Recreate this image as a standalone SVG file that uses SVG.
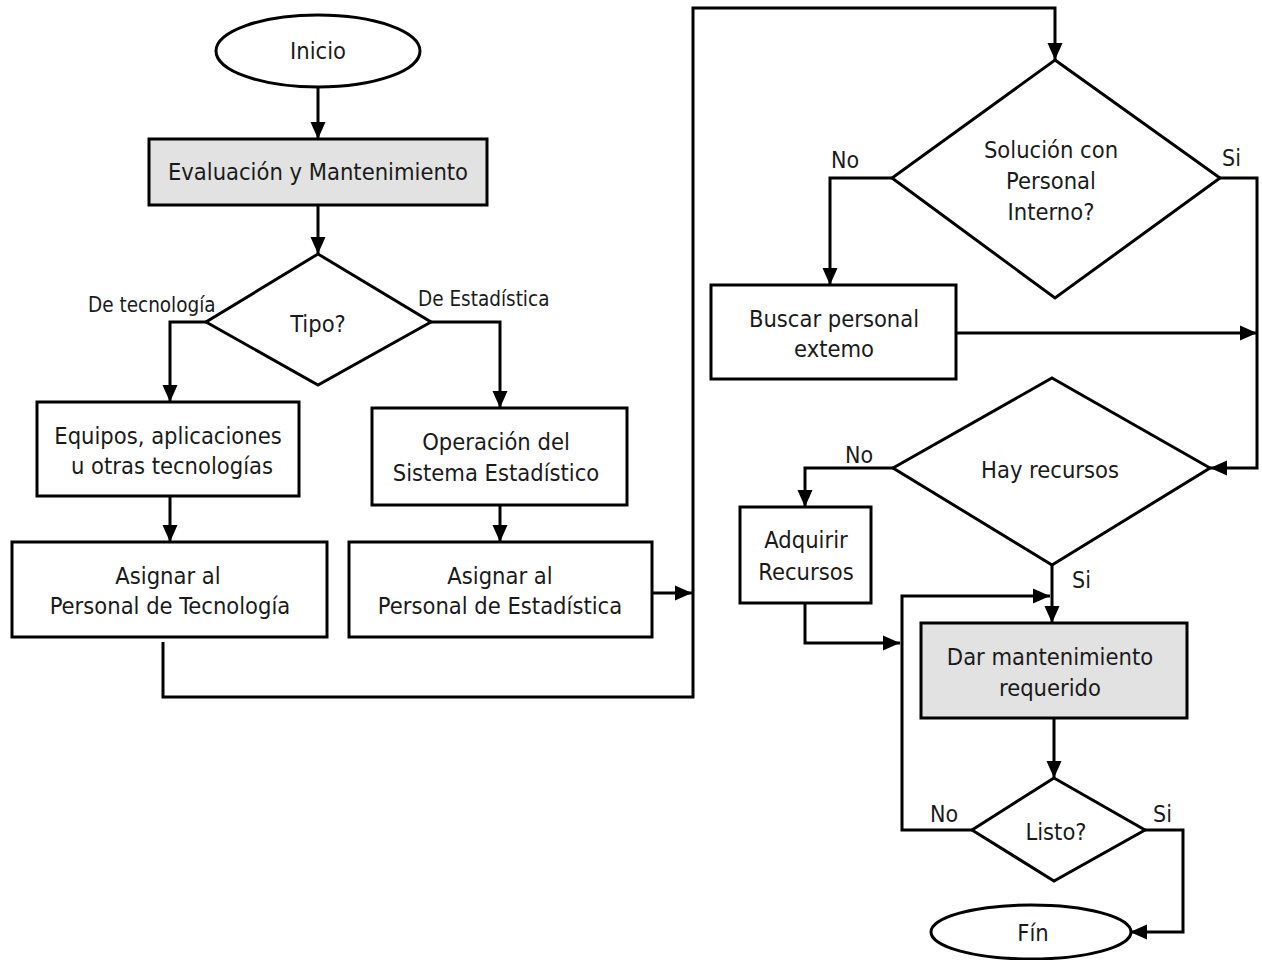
<svg xmlns="http://www.w3.org/2000/svg" width="1262" height="960" viewBox="0 0 1262 960">
  <style>
    .shape { fill: #ffffff; stroke: #000000; stroke-width: 3; }
    .shade { fill: #e2e2e2; stroke: #000000; stroke-width: 3; }
    .lbl { font-family: "DejaVu Sans Condensed", "DejaVu Sans", sans-serif; font-size: 23.5px; fill: #1a1a1a; text-anchor: middle; }
    .tag { font-family: "DejaVu Sans Condensed", "DejaVu Sans", sans-serif; font-size: 20.5px; fill: #1a1a1a; }
    .yn { font-size: 23px; }
    .wire { fill: none; stroke: #000000; stroke-width: 3; }
    .arrow { marker-end: url(#head); }
  </style>
  <defs>
    <marker id="head" markerUnits="userSpaceOnUse" markerWidth="17" markerHeight="16" refX="17" refY="8" orient="auto">
      <path d="M0,0.5 L17,8 L0,15.5 z" fill="#000000"/>
    </marker>
  </defs>
  <rect width="1262" height="960" fill="#ffffff"/>

  <!-- connectors -->
  <g id="connectors">
    <path class="wire arrow" d="M318,87 L318,139"/>
    <path class="wire arrow" d="M318,205 L318,254"/>
    <path class="wire arrow" d="M206,322 L170,322 L170,402"/>
    <path class="wire arrow" d="M431,322 L500,322 L500,408"/>
    <path class="wire arrow" d="M170,496 L170,542"/>
    <path class="wire arrow" d="M500,505 L500,542"/>
    <path class="wire arrow" d="M652,593 L692,593"/>
    <path class="wire arrow" d="M163,642 L163,697 L693,697 L693,8 L1055,8 L1055,60"/>
    <path class="wire arrow" d="M892,178 L830,178 L830,285"/>
    <path class="wire arrow" d="M956,333 L1257,333"/>
    <path class="wire arrow" d="M1220,178 L1257,178 L1257,468 L1210,468"/>
    <path class="wire arrow" d="M893,468 L805,468 L805,507"/>
    <path class="wire arrow" d="M805,603 L805,643 L900,643"/>
    <path class="wire arrow" d="M1052,565 L1052,623"/>
    <path class="wire arrow" d="M1054,718 L1054,778"/>
    <path class="wire arrow" d="M972,830 L902,830 L902,596 L1050,596"/>
    <path class="wire arrow" d="M1145,830 L1183,830 L1183,932 L1130,932"/>
    <text class="tag" x="88" y="312">De tecnología</text>
    <text class="tag" x="418" y="306">De Estadística</text>
    <text class="tag yn" x="831" y="168">No</text>
    <text class="tag yn" x="1222" y="166">Si</text>
    <text class="tag yn" x="845" y="463">No</text>
    <text class="tag yn" x="1072" y="588">Si</text>
    <text class="tag yn" x="930" y="822">No</text>
    <text class="tag yn" x="1153" y="822">Si</text>
  </g>

  <g id="inicio">
    <ellipse class="shape" cx="318" cy="51" rx="102" ry="36"/>
    <text class="lbl" x="318" y="59">Inicio</text>
  </g>

  <g id="evaluacion">
    <rect class="shade" x="149" y="139" width="338" height="66"/>
    <text class="lbl" x="318" y="180">Evaluación y Mantenimiento</text>
  </g>

  <g id="tipo">
    <polygon class="shape" points="318,254 431,322 318,385 206,322"/>
    <text class="lbl" x="318" y="332">Tipo?</text>
  </g>

  <g id="equipos">
    <rect class="shape" x="37" y="402" width="262" height="94"/>
    <text class="lbl" x="168" y="444">Equipos, aplicaciones</text>
    <text class="lbl" x="172" y="474">u otras tecnologías</text>
  </g>

  <g id="operacion">
    <rect class="shape" x="372" y="408" width="255" height="97"/>
    <text class="lbl" x="496" y="450">Operación del</text>
    <text class="lbl" x="496" y="481">Sistema Estadístico</text>
  </g>

  <g id="asignar-tec">
    <rect class="shape" x="12" y="542" width="315" height="95"/>
    <text class="lbl" x="168" y="584">Asignar al</text>
    <text class="lbl" x="170" y="614">Personal de Tecnología</text>
  </g>

  <g id="asignar-est">
    <rect class="shape" x="349" y="542" width="303" height="95"/>
    <text class="lbl" x="500" y="584">Asignar al</text>
    <text class="lbl" x="500" y="614">Personal de Estadística</text>
  </g>

  <g id="solucion">
    <polygon class="shape" points="1055,60 1220,178 1055,298 892,178"/>
    <text class="lbl" x="1051" y="158">Solución con</text>
    <text class="lbl" x="1051" y="189">Personal</text>
    <text class="lbl" x="1051" y="220">Interno?</text>
  </g>

  <g id="buscar">
    <rect class="shape" x="711" y="285" width="245" height="94"/>
    <text class="lbl" x="834" y="327">Buscar personal</text>
    <text class="lbl" x="834" y="357">extemo</text>
  </g>

  <g id="hay-recursos">
    <polygon class="shape" points="1052,378 1210,468 1052,565 893,468"/>
    <text class="lbl" x="1050" y="478">Hay recursos</text>
  </g>

  <g id="adquirir">
    <rect class="shape" x="740" y="507" width="131" height="96"/>
    <text class="lbl" x="806" y="548">Adquirir</text>
    <text class="lbl" x="806" y="580">Recursos</text>
  </g>

  <g id="dar-mantenimiento">
    <rect class="shade" x="921" y="623" width="266" height="95"/>
    <text class="lbl" x="1050" y="665">Dar mantenimiento</text>
    <text class="lbl" x="1050" y="696">requerido</text>
  </g>

  <g id="listo">
    <polygon class="shape" points="1054,778 1145,830 1054,881 972,830"/>
    <text class="lbl" x="1056" y="840">Listo?</text>
  </g>

  <g id="fin">
    <ellipse class="shape" cx="1031" cy="932" rx="100" ry="27"/>
    <text class="lbl" x="1033" y="941">Fín</text>
  </g>
</svg>
